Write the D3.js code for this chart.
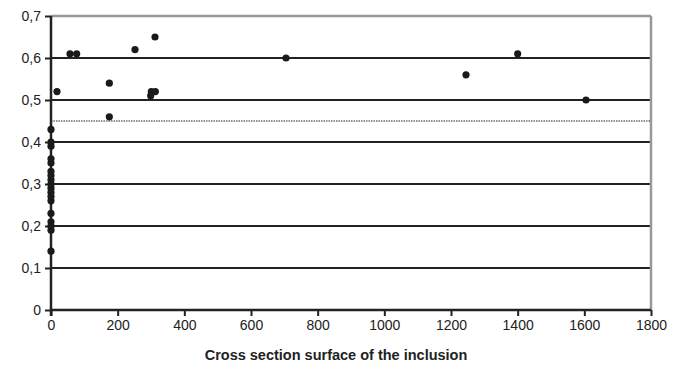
<!DOCTYPE html>
<html>
<head>
    <meta charset="utf-8">
    <script src="https://d3js.org/d3.v7.min.js"></script>
    <style>
        body { margin: 0; background: #fff; }
        text { font-family: "Liberation Sans", Arial, sans-serif; fill: #222; }
    </style>
</head>
<body>
<svg id="chart"></svg>
<script>
    // data
    var xValues = [0, 0, 0, 0, 0, 0, 0, 0, 0, 0, 0, 0, 0, 0, 0, 0, 0, 0,
                   18, 57, 77, 175, 175, 252, 299, 301, 313, 312, 705, 1245, 1400, 1605];
    var yValues = [0.43, 0.40, 0.39, 0.36, 0.35, 0.33, 0.32, 0.31, 0.30, 0.29, 0.28, 0.27, 0.26, 0.23, 0.21, 0.20, 0.19, 0.14,
                   0.52, 0.61, 0.61, 0.54, 0.46, 0.62, 0.51, 0.52, 0.52, 0.65, 0.60, 0.56, 0.61, 0.50];
    var xTicks = [0, 200, 400, 600, 800, 1000, 1200, 1400, 1600, 1800];
    var yTicks = [0, 0.1, 0.2, 0.3, 0.4, 0.5, 0.6, 0.7];
    var thresholdValue = 0.45;
    var xTitle = "Cross section surface of the inclusion";

    var width = 681, height = 367;
    var margin = {left: 51, right: 30, top: 16, bottom: 57};

    var svg = d3.select("#chart").attr("width", width).attr("height", height);

    var x = d3.scaleLinear().domain([0, 1800]).range([margin.left, width - margin.right]);
    var y = d3.scaleLinear().domain([0, 0.7]).range([height - margin.bottom, margin.top]);

    // gridlines
    svg.append("g").selectAll("line")
        .data(yTicks.filter(function(d) { return d > 0 && d < 0.7; }))
        .enter().append("line")
        .attr("x1", x(0)).attr("x2", x(1800))
        .attr("y1", function(d) { return y(d); }).attr("y2", function(d) { return y(d); })
        .attr("stroke", "#222").attr("stroke-width", 2);

    // gray frame top / right
    svg.append("line").attr("x1", x(0)).attr("x2", x(1800)).attr("y1", y(0.7)).attr("y2", y(0.7))
        .attr("stroke", "#999").attr("stroke-width", 2.5);
    svg.append("line").attr("x1", x(1800)).attr("x2", x(1800)).attr("y1", y(0.7)).attr("y2", y(0))
        .attr("stroke", "#999").attr("stroke-width", 2.5);

    // threshold dotted line
    svg.append("line")
        .attr("x1", x(0)).attr("x2", x(1800))
        .attr("y1", y(thresholdValue)).attr("y2", y(thresholdValue))
        .attr("stroke", "#222").attr("stroke-width", 1).attr("stroke-dasharray", "1.5,1");

    var fmt = function(d) { return d === 0 ? "0" : d3.format(".1f")(d).replace(".", ","); };

    var yAxis = svg.append("g").attr("transform", "translate(" + x(0) + ",0)")
        .call(d3.axisLeft(y).tickValues(yTicks).tickFormat(fmt).tickSize(6).tickPadding(4));
    var xAxis = svg.append("g").attr("transform", "translate(0," + y(0) + ")")
        .call(d3.axisBottom(x).tickValues(xTicks).tickFormat(d3.format("d")).tickSize(6).tickPadding(4));

    [yAxis, xAxis].forEach(function(a) {
        a.select(".domain").attr("stroke", "#222").attr("stroke-width", 2.5);
        a.selectAll(".tick line").attr("stroke", "#222").attr("stroke-width", 2);
        a.selectAll("text").style("font-size", "14px").attr("fill", "#333");
    });
    yAxis.select(".domain").attr("d", "M0," + y(0.7) + "V" + (y(0) + 6));
    xAxis.select(".domain").attr("d", "M" + x(0) + ",0H" + x(1800));

    // points
    svg.append("g").selectAll("circle")
        .data(xValues.map(function(d, i) { return [d, yValues[i]]; }))
        .enter().append("circle")
        .attr("cx", function(d) { return x(d[0]); })
        .attr("cy", function(d) { return y(d[1]); })
        .attr("r", 3.6)
        .attr("fill", "#1a1a1a");

    svg.append("text")
        .attr("x", (x(0) + x(1800)) / 2 - 15)
        .attr("y", 360)
        .attr("text-anchor", "middle")
        .style("font-size", "14.5px")
        .style("font-weight", "bold")
        .text(xTitle);
</script>
</body>
</html>
